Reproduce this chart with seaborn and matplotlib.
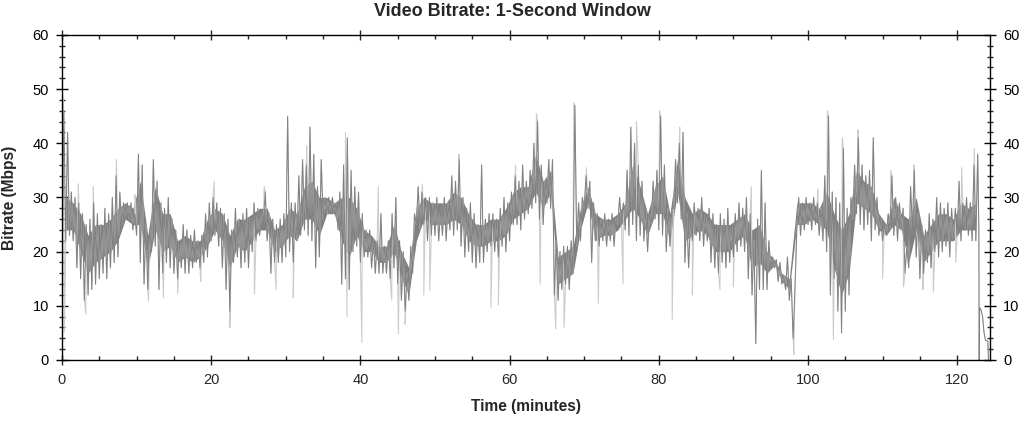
import numpy as np
import pandas as pd
import matplotlib
matplotlib.use('Agg')
import matplotlib.pyplot as plt
import seaborn as sns
from matplotlib.ticker import MultipleLocator

# Video bitrate: per half-minute bin, low and high of the dark band (Mbps)
bin_step = 0.5
rate_lo = [14, 22, 23, 22, 17, 15, 11, 12, 13, 14,
           15, 16, 15, 17, 18, 19, 25, 26, 26, 24,
           23, 18, 14, 13, 20, 21, 13, 16, 18, 17,
           16, 15, 17, 16, 16, 17, 18, 17, 18, 19,
           22, 23, 21, 17, 13, 9, 18, 19, 17, 18,
           17, 20, 22, 23, 26, 22, 16, 18, 18, 18,
           19, 20, 18, 22, 23, 24, 23, 22, 17, 19,
           26, 27, 27, 27, 24, 14, 15, 13, 20, 21,
           18, 19, 19, 17, 16, 16, 16, 16, 15, 17,
           14, 11, 9, 11, 16, 25, 24, 25, 22, 23,
           23, 22, 23, 22, 24, 23, 24, 21, 19, 20,
           18, 17, 18, 18, 20, 21, 20, 19, 21, 20,
           22, 25, 25, 24, 26, 27, 28, 29, 26, 25,
           29, 28, 12, 11, 13, 14, 13, 16, 21, 22,
           28, 28, 18, 22, 21, 22, 21, 22, 21, 25,
           25, 24, 23, 25, 22, 23, 22, 20, 25, 26,
           24, 23, 20, 21, 28, 29, 26, 18, 17, 22,
           23, 22, 21, 22, 18, 17, 16, 18, 17, 18,
           19, 20, 21, 20, 15, 12, 3, 13, 13, 13,
           17, 17, 14.5, 14, 13, 11, 4, 24, 23, 24,
           25, 24, 25, 23, 22, 20, 12, 15, 9, 5,
           9, 12, 26, 27, 25, 24, 25, 22, 24, 23,
           22, 23, 24, 23, 22, 24, 16, 17, 24, 19,
           15, 16, 18, 17, 20, 19, 20, 21, 19, 22,
           23, 22, 24, 23, 22, 22]
rate_hi = [46, 42, 31, 30, 29, 27, 25, 26, 29, 27,
           25, 28, 27, 30, 34, 31, 29, 29, 29, 27,
           38, 36, 25, 24, 37, 33, 29, 28, 30, 26,
           24, 22, 25, 24, 23, 24, 22, 23, 27, 29,
           30, 29, 28, 27, 26, 24, 28, 26, 27, 28,
           26, 29, 28, 27, 31, 27, 26, 25, 26, 27,
           45, 29, 29, 34, 37, 36, 43, 38, 32, 37,
           30, 30, 30, 29, 31, 36, 41, 35, 32, 31,
           27, 24, 24, 22, 22, 27, 21, 22, 27, 30,
           22, 20, 16, 21, 27, 32, 31, 30, 30, 29,
           30, 28, 30, 29, 34, 33, 37, 30, 28, 29,
           27, 25, 36, 26, 27, 27, 26, 28, 30, 29,
           31, 34, 33, 36, 33, 35, 40, 44, 36, 33,
           37, 37, 22, 20, 21, 21, 22, 47, 29, 30,
           34, 33, 29, 27, 26, 27, 26, 27, 26, 30,
           29, 35, 43, 40, 36, 33, 28, 27, 33, 35,
           45, 36, 28, 28, 37, 40, 42, 27, 26, 29,
           28, 30, 27, 28, 27, 25, 27, 26, 28, 25,
           27, 29, 28, 30, 27, 22, 26, 35, 29, 22,
           19, 18.5, 18, 15.5, 19, 15, 13, 30, 29, 30,
           29, 30, 29, 28, 34, 45, 31, 30, 29, 39,
           28, 30, 36, 41, 36, 34, 35, 41, 30, 26,
           25, 27, 34, 30, 29, 28, 21, 32, 35, 27,
           25, 24, 27, 26, 30, 29, 28, 29, 28, 28,
           33, 29, 30, 29, 36, 38]

# where most of the one-second samples sit, per one-minute bin (solid core of the band)
core_lo = [24, 24, 20, 16, 18, 19, 20, 22, 26, 25,
           25, 17, 24, 20, 21, 18, 19, 18, 19, 21,
           24, 22, 17, 21, 20, 22, 24, 24, 20, 21,
           23, 22, 26, 26, 23, 27, 27, 22, 19, 23,
           20, 20, 18, 18, 20, 15, 12, 22, 26, 25,
           25, 25, 26, 25, 22, 21, 21, 22, 22, 23,
           26, 27, 28, 31, 28, 31, 14, 15, 16, 24,
           29, 22, 23, 23, 24, 26, 28, 26, 23, 27,
           27, 22, 31, 22, 23, 24, 23, 20, 20, 20,
           22, 23, 17, 18, 16, 17.5, 14.5, 13, 25, 25,
           26, 25, 24, 17, 12, 16, 29, 28, 27, 24,
           23, 25, 24, 18, 24, 18, 20, 22, 22, 22,
           24, 24, 24]
core_hi = [30, 29, 27, 23, 25, 25, 26, 28, 29, 28,
           33, 23, 32, 27, 27, 22, 23, 22, 22, 26,
           28, 27, 23, 26, 26, 27, 28, 28, 24, 25,
           28, 27, 32, 33, 30, 30, 29, 30, 30, 28,
           24, 23, 21, 21, 25, 20, 17, 28, 30, 29,
           29, 29, 31, 30, 27, 25, 25, 26, 26, 28,
           31, 32, 32, 38, 33, 35, 19, 20, 21, 28,
           32, 27, 26, 26, 27, 29, 36, 32, 27, 32,
           34, 27, 37, 30, 27, 28, 27, 25, 25, 25,
           26, 27, 24, 25, 20, 18.5, 16, 15, 29, 29,
           29, 28, 31, 27, 24, 27, 35, 33, 32, 27,
           25, 30, 27, 26, 30, 23, 25, 27, 27, 26,
           29, 28, 29]

# end of the clip: drop to zero and a short low tail
tail_time = [122.9, 122.95, 123.0, 123.2, 123.4, 123.6, 123.8, 124.1, 124.2]
tail_rate = [24, 0, 9.7, 9.2, 8.0, 5.0, 3.6, 3.5, 0]

# light grey one-second peaks and dips poking out of the band
spike_time = [0.1, 0.3, 2.2, 3.2, 4.2, 7.3, 9.8, 11.6, 13.6, 15.5,
              18.6, 20.4, 22.5, 25.8, 27.1, 28.7, 31.0, 32.8, 38.0, 38.2,
              40.2, 42.4, 44.2, 45.1, 46.0, 48.3, 48.5, 49.3, 53.2, 57.5,
              58.5, 60.8, 63.6, 64.1, 66.2, 67.3, 68.6, 70.3, 71.9, 75.2,
              77.0, 80.1, 81.8, 82.8, 84.5, 88.2, 90.0, 92.4, 98.1, 101.3,
              102.6, 103.4, 104.6, 106.7, 110.0, 111.1, 112.8, 114.2, 115.4, 116.8,
              119.8, 120.6, 122.3]
spike_rate = [49, 5, 32.5, 8.5, 32, 37, 30.5, 11, 11.5, 12.3,
              14.5, 33, 6, 12.2, 32, 13, 11.5, 39.5, 42, 8,
              3.2, 32, 11, 4.8, 6.6, 32.5, 12, 12.8, 38, 9.7,
              10.2, 36, 45.5, 14, 5.7, 6, 47.5, 35.5, 10.5, 14,
              44, 46, 7.5, 43, 12, 13, 13.5, 32, 1.0, 31.5,
              46, 3.8, 41, 42.5, 15, 35, 13.5, 36, 13, 12.5,
              18, 35.5, 39]

# build the plotted series: each bin runs from its low to its high
bin_start = np.arange(len(rate_lo)) * bin_step
dark = pd.DataFrame({
    'time': np.concatenate([np.column_stack([bin_start, bin_start + bin_step / 2]).ravel(), tail_time]),
    'rate': np.concatenate([np.column_stack([rate_lo, rate_hi]).ravel(), tail_rate]),
})
light = pd.concat([dark, pd.DataFrame({'time': spike_time, 'rate': spike_rate})])
light = light.sort_values('time', kind='stable').reset_index(drop=True)
core = pd.DataFrame({'time': np.arange(len(core_lo)) + 0.5, 'lo': core_lo, 'hi': core_hi})

sns.set_style('ticks')
plt.rcParams['font.family'] = ['Liberation Sans', 'DejaVu Sans']

fig = plt.figure(figsize=(10.33, 4.21), dpi=100)
ax = fig.add_axes([0.060, 0.145, 0.8984, 0.772])

sns.lineplot(data=light, x='time', y='rate', estimator=None, sort=False,
             color='#cccccc', lw=0.8, ax=ax)
ax.fill_between(core['time'], core['lo'], core['hi'], color='#808080', lw=0)
sns.lineplot(data=dark, x='time', y='rate', estimator=None, sort=False,
             color='#808080', lw=0.7, ax=ax)

ax.set_xlim(0, 124.4)
ax.set_ylim(0, 60)
ax.xaxis.set_major_locator(MultipleLocator(20))
ax.xaxis.set_minor_locator(MultipleLocator(5))
ax.yaxis.set_major_locator(MultipleLocator(10))
ax.yaxis.set_minor_locator(MultipleLocator(2))

for side in ['top', 'right', 'bottom', 'left']:
    ax.spines[side].set_visible(True)
    ax.spines[side].set_color('black')
    ax.spines[side].set_linewidth(1.0)

ax.tick_params(axis='y', which='major', direction='inout', length=9, width=1,
               left=True, right=True, labelleft=True, labelright=True,
               labelsize=10.5, pad=5, colors='black')
ax.tick_params(axis='y', which='minor', direction='inout', length=4.5, width=1,
               left=True, right=True)
ax.tick_params(axis='x', which='major', direction='inout', length=7, width=1,
               top=True, bottom=True, labelsize=10.5, pad=6)
ax.tick_params(axis='x', which='minor', direction='in', length=3, width=1,
               top=True, bottom=True)

ax.set_xlabel('Time (minutes)', fontsize=11.2, fontweight='bold')
ax.set_ylabel('Bitrate (Mbps)', fontsize=11.2, fontweight='bold')
ax.xaxis.set_label_coords(0.5, -0.12)
ax.yaxis.set_label_coords(-0.048, 0.5)
fig.text(0.496, 0.972, 'Video Bitrate: 1-Second Window', ha='center', va='center',
         fontsize=13, fontweight='bold')

fig.savefig('out.png', dpi=100, facecolor='white')
